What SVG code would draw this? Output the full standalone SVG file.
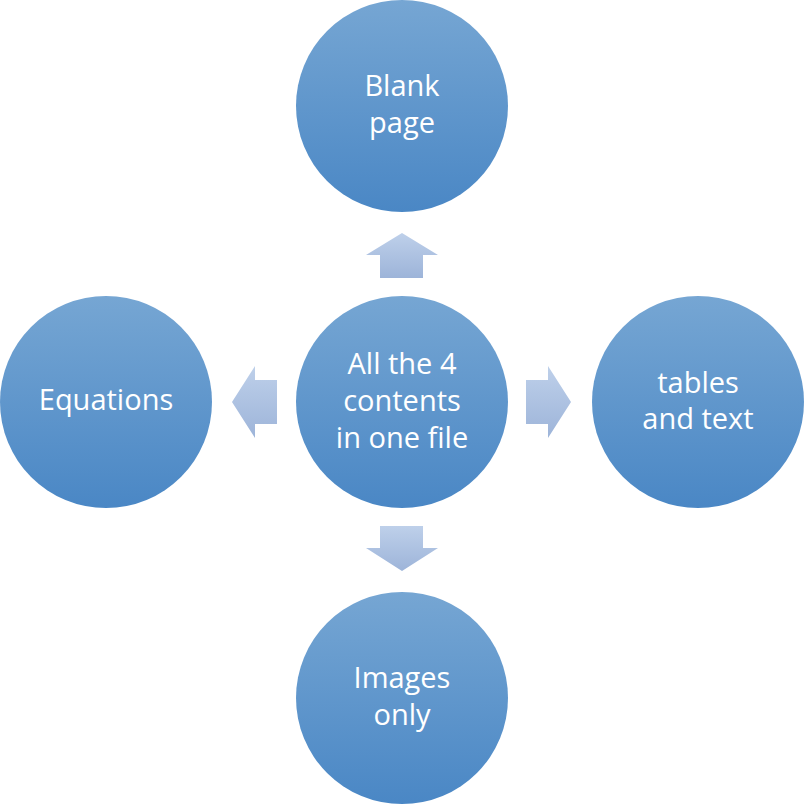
<svg xmlns="http://www.w3.org/2000/svg" width="804" height="804" viewBox="0 0 804 804">
<defs>
<linearGradient id="cg" x1="0" y1="0" x2="0" y2="1">
<stop offset="0" stop-color="#76a6d3"/>
<stop offset="1" stop-color="#4a87c5"/>
</linearGradient>
<linearGradient id="ag" x1="0" y1="0" x2="0" y2="1">
<stop offset="0" stop-color="#bed0ea"/>
<stop offset="1" stop-color="#9db4d9"/>
</linearGradient>
<style>
.c{fill:url(#cg)}
.a{fill:url(#ag)}
.t{font-family:"Open Sans","Liberation Sans",sans-serif;font-size:29px;fill:#ffffff;text-anchor:middle}
</style>
</defs>
<rect width="804" height="804" fill="#ffffff"/>
<g id="connectors">
<polygon class="a" points="402,233 438,255 423,255 423,278 380,278 380,255 366,255"/>
<polygon class="a" points="232,402 255,366 255,380 277,380 277,424 255,424 255,438"/>
<polygon class="a" points="571,402 548,366 548,380 526,380 526,424 548,424 548,438"/>
<polygon class="a" points="402,571 438,548 423,548 423,526 380,526 380,548 366,548"/>
</g>
<g id="center">
<circle class="c" cx="402" cy="402" r="106"/>
<text class="t" x="402" y="374">All the 4</text>
<text class="t" x="402" y="411">contents</text>
<text class="t" x="402" y="448">in one file</text>
</g>
<g id="top">
<circle class="c" cx="402" cy="106" r="106"/>
<text class="t" x="402" y="96">Blank</text>
<text class="t" x="402" y="133">page</text>
</g>
<g id="left">
<circle class="c" cx="106" cy="402" r="106"/>
<text class="t" x="106" y="410">Equations</text>
</g>
<g id="right">
<circle class="c" cx="698" cy="402" r="106"/>
<text class="t" x="698" y="393">tables</text>
<text class="t" x="698" y="429">and text</text>
</g>
<g id="bottom">
<circle class="c" cx="402" cy="698" r="106"/>
<text class="t" x="402" y="688">Images</text>
<text class="t" x="402" y="725">only</text>
</g>
</svg>
